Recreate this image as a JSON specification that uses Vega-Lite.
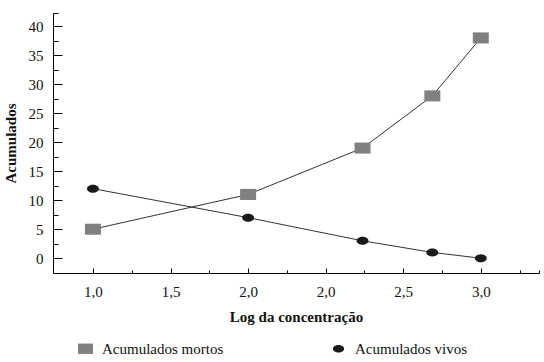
{
  "$schema": "https://vega.github.io/schema/vega-lite/v6.json",
  "width": 486,
  "height": 260,
  "autosize": "none",
  "padding": {"left": 53, "top": 13, "right": 5, "bottom": 89},
  "background": "white",
  "config": {
    "view": {"stroke": null},
    "axis": {
      "labelFont": "Liberation Serif",
      "labelFontSize": 15,
      "labelColor": "#111",
      "titleFont": "Liberation Serif",
      "titleFontSize": 15,
      "titleFontWeight": "bold",
      "titleColor": "#111",
      "domainColor": "#000",
      "tickColor": "#000",
      "domainWidth": 1,
      "tickWidth": 1,
      "grid": false,
      "labelOverlap": false,
      "labelFlush": false,
      "labelBound": false
    },
    "legend": {
      "labelFont": "Liberation Serif",
      "labelFontSize": 15,
      "labelColor": "#111"
    }
  },
  "data": {
    "values": [
      {"pos": 0, "valor": 5, "serie": "Acumulados mortos"},
      {"pos": 2, "valor": 11, "serie": "Acumulados mortos"},
      {"pos": 3.475, "valor": 19, "serie": "Acumulados mortos"},
      {"pos": 4.375, "valor": 28, "serie": "Acumulados mortos"},
      {"pos": 5, "valor": 38, "serie": "Acumulados mortos"},
      {"pos": 0, "valor": 12, "serie": "Acumulados vivos"},
      {"pos": 2, "valor": 7, "serie": "Acumulados vivos"},
      {"pos": 3.475, "valor": 3, "serie": "Acumulados vivos"},
      {"pos": 4.375, "valor": 1, "serie": "Acumulados vivos"},
      {"pos": 5, "valor": 0, "serie": "Acumulados vivos"}
    ]
  },
  "encoding": {
    "x": {
      "field": "pos",
      "type": "quantitative",
      "scale": {"domain": [-0.515, 5.75], "nice": false, "zero": false},
      "axis": {
        "title": "Log da concentração",
        "values": [0, 0.5, 1, 1.5, 2, 2.5, 3, 3.5, 4, 4.5, 5, 5.5, 5.75],
        "labelExpr": "datum.value % 1 === 0 ? ['1,0','1,5','2,0','2,0','2,5','3,0'][datum.value] : ''",
        "tickSize": {"condition": {"test": "datum.value % 1 === 0", "value": -5}, "value": -3},
        "labelPadding": 16,
        "titlePadding": 8
      }
    },
    "y": {
      "field": "valor",
      "type": "quantitative",
      "scale": {"domain": [-2.55, 42.3], "nice": false, "zero": false},
      "axis": {
        "title": "Acumulados",
        "values": [0, 2.5, 5, 7.5, 10, 12.5, 15, 17.5, 20, 22.5, 25, 27.5, 30, 32.5, 35, 37.5, 40, 42.3],
        "labelExpr": "datum.value % 5 === 0 ? datum.label : ''",
        "tickSize": {"condition": {"test": "datum.value % 5 === 0", "value": -9}, "value": -5},
        "labelPadding": 19,
        "titlePadding": 10
      }
    }
  },
  "layer": [
    {
      "mark": {"type": "line", "color": "#333", "strokeWidth": 1},
      "encoding": {"detail": {"field": "serie"}}
    },
    {
      "mark": {"type": "point", "filled": true, "opacity": 1, "size": 256},
      "encoding": {
        "shape": {
          "field": "serie",
          "type": "nominal",
          "scale": {
            "domain": ["Acumulados mortos", "Acumulados vivos"],
            "range": ["M-1,-0.69L1,-0.69L1,0.69L-1,0.69Z", "M-0.75,0A0.75,0.5,0,1,1,0.75,0A0.75,0.5,0,1,1,-0.75,0Z"]
          },
          "legend": {
            "title": null,
            "orient": "none",
            "legendX": 24,
            "legendY": 327,
            "direction": "horizontal",
            "padding": 0,
            "columnPadding": 106,
            "labelOffset": 8,
            "symbolSize": 225,
            "encode": {
              "symbols": {
                "update": {
                  "shape": {"signal": "datum.value === 'Acumulados mortos' ? 'square' : 'circle'"},
                  "size": {"signal": "datum.value === 'Acumulados mortos' ? 225 : 160"}
                }
              }
            }
          }
        },
        "color": {
          "field": "serie",
          "type": "nominal",
          "scale": {
            "domain": ["Acumulados mortos", "Acumulados vivos"],
            "range": ["#808080", "#1a1a1a"]
          },
          "legend": {
            "title": null,
            "orient": "none",
            "legendX": 24,
            "legendY": 327,
            "direction": "horizontal",
            "padding": 0,
            "columnPadding": 106,
            "labelOffset": 8,
            "symbolSize": 225,
            "encode": {
              "symbols": {
                "update": {
                  "shape": {"signal": "datum.value === 'Acumulados mortos' ? 'square' : 'circle'"},
                  "size": {"signal": "datum.value === 'Acumulados mortos' ? 225 : 160"}
                }
              }
            }
          }
        }
      }
    }
  ]
}
